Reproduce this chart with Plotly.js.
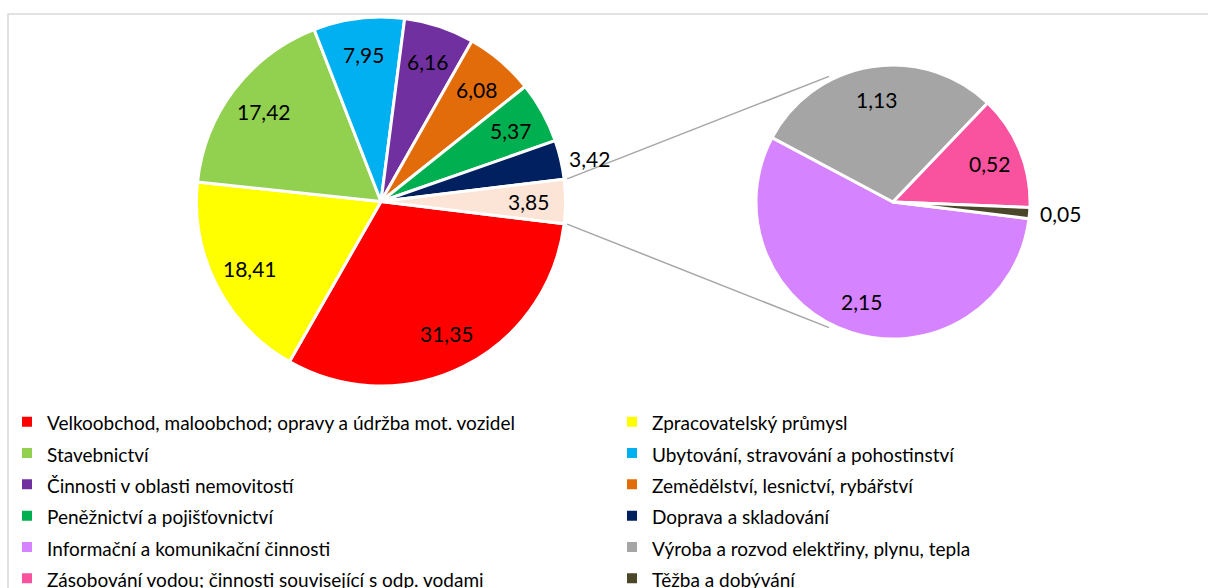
<!DOCTYPE html>
<html><head><meta charset="utf-8">
<script src="https://cdn.plot.ly/plotly-3.0.1.min.js"></script>
<style>html,body{margin:0;padding:0;background:#fff}</style>
</head><body>
<div id="chart" style="width:1208px;height:588px"></div>
<script>
// ---- data ----
const mainLabels = [
  'Velkoobchod, maloobchod; opravy a údržba mot. vozidel',
  'Zpracovatelský průmysl',
  'Stavebnictví',
  'Ubytování, stravování a pohostinství',
  'Činnosti v oblasti nemovitostí',
  'Zemědělství, lesnictví, rybářství',
  'Peněžnictví a pojišťovnictví',
  'Doprava a skladování'
];
const mainValues = [31.35, 18.41, 17.42, 7.95, 6.16, 6.08, 5.37, 3.42];
const mainColors = ['#FF0000', '#FFFF00', '#92D050', '#00B0F0', '#7030A0', '#E36C0A', '#00B050', '#002060'];

const otherLabel = 'Ostatní';
const otherColor = '#FCE4D6';

const detailLabels = [
  'Informační a komunikační činnosti',
  'Výroba a rozvod elektřiny, plynu, tepla',
  'Zásobování vodou; činnosti související s odp. vodami',
  'Těžba a dobývání'
];
const detailValues = [2.15, 1.13, 0.52, 0.05];
const detailColors = ['#D683FF', '#A5A5A5', '#F9529E', '#4A4629'];

// ---- geometry / style ----
const W = 1208, H = 588;
const FONT = 'Lato, "Open Sans", sans-serif';
const LP = {cx: 381, cy: 201.5, r: 184.5};
const RP = {cx: 893, cy: 202, r: 137};
const px = x => x / W, py = y => 1 - y / H;
const domainOf = c => ({x: [px(c.cx - c.r), px(c.cx + c.r)], y: [py(c.cy + c.r), py(c.cy - c.r)]});
const sum = a => a.reduce((s, v) => s + v, 0);
const fmt = v => v.toFixed(2).replace('.', ',');
const wrap = s => '<span style="font-size:19px">' + s + '</span>';

const otherValue = Math.round(sum(detailValues) * 100) / 100;
const leftValues = mainValues.concat([otherValue]);
const leftTotal = sum(leftValues);
const otherHalfDeg = otherValue / leftTotal * 180;
const leftRot = 90 + otherHalfDeg;
const rightRot = 97;

const allLabels = mainLabels.concat(detailLabels).map(wrap);
const allValues = mainValues.concat(detailValues);
const allColors = mainColors.concat(detailColors);

const common = {type: 'pie', sort: false, direction: 'clockwise', textinfo: 'none', hoverinfo: 'skip'};

// legend-only pie (hidden under the main pie)
const legendPie = Object.assign({}, common, {
  labels: allLabels, values: allValues,
  marker: {colors: allColors, line: {color: '#FFFFFF', width: 2}},
  domain: {x: [px(418), px(421)], y: [py(321), py(318)]},
  showlegend: true
});
const leftPie = Object.assign({}, common, {
  labels: mainLabels.map(wrap).concat([otherLabel]), values: leftValues,
  marker: {colors: mainColors.concat([otherColor]), line: {color: '#FFFFFF', width: 3}},
  rotation: leftRot, domain: domainOf(LP), showlegend: false
});
const rightPie = Object.assign({}, common, {
  labels: detailLabels.map(wrap), values: detailValues,
  marker: {colors: detailColors, line: {color: '#FFFFFF', width: 3}},
  rotation: rightRot, domain: domainOf(RP), showlegend: false
});

function sliceLabels(vals, rot, c, inFrac, outGap, minShare) {
  const tot = sum(vals);
  let a = rot;
  return vals.map(v => {
    const share = v / tot;
    const mid = (a + share * 180) * Math.PI / 180;
    a += share * 360;
    const inside = share >= minShare;
    const rr = inside ? c.r * inFrac : c.r + outGap;
    return {
      xref: 'paper', yref: 'paper',
      x: px(c.cx + rr * Math.sin(mid)), y: py(c.cy - rr * Math.cos(mid)),
      text: fmt(v), showarrow: false,
      xanchor: inside ? 'center' : 'left', yanchor: 'middle',
      font: {family: FONT, size: 21, color: '#000000'}
    };
  });
}
const annotations = sliceLabels(leftValues, leftRot, LP, 0.8, 6, 0.036)
  .concat(sliceLabels(detailValues, rightRot, RP, 0.76, 8, 0.036));

function polar(c, rr, deg) {
  const t = deg * Math.PI / 180;
  return [px(c.cx + rr * Math.sin(t)), py(c.cy - rr * Math.cos(t))];
}
const connColor = '#A6A6A6';
const t1 = polar(LP, LP.r + 3, 90 - otherHalfDeg), t2 = polar(RP, RP.r + 4, 333);
const b1 = polar(LP, LP.r + 3, 90 + otherHalfDeg), b2 = polar(RP, RP.r + 4, 207);
const shapes = [
  {type: 'rect', xref: 'paper', yref: 'paper', x0: px(8), x1: px(1216), y0: py(14), y1: py(600),
   line: {color: '#D9D9D9', width: 1.5}, fillcolor: 'rgba(0,0,0,0)', layer: 'below'},
  {type: 'line', xref: 'paper', yref: 'paper', x0: t1[0], y0: t1[1], x1: t2[0], y1: t2[1], line: {color: connColor, width: 1.5}},
  {type: 'line', xref: 'paper', yref: 'paper', x0: b1[0], y0: b1[1], x1: b2[0], y1: b2[1], line: {color: connColor, width: 1.5}}
];

const layout = {
  width: W, height: H,
  margin: {l: 0, r: 0, t: 0, b: 0, autoexpand: false},
  paper_bgcolor: '#FFFFFF',
  font: {family: FONT, color: '#000000'},
  showlegend: true,
  legend: {
    orientation: 'h', x: px(7), y: py(401), xanchor: 'left', yanchor: 'top',
    entrywidth: 560, entrywidthmode: 'pixels',
    font: {family: FONT, size: 21.8, color: '#000000'},
    bgcolor: 'rgba(0,0,0,0)', traceorder: 'normal'
  },
  annotations: annotations,
  shapes: shapes
};

Plotly.newPlot('chart', [legendPie, leftPie, rightPie], layout, {displayModeBar: false, staticPlot: true});
</script>
</body></html>
